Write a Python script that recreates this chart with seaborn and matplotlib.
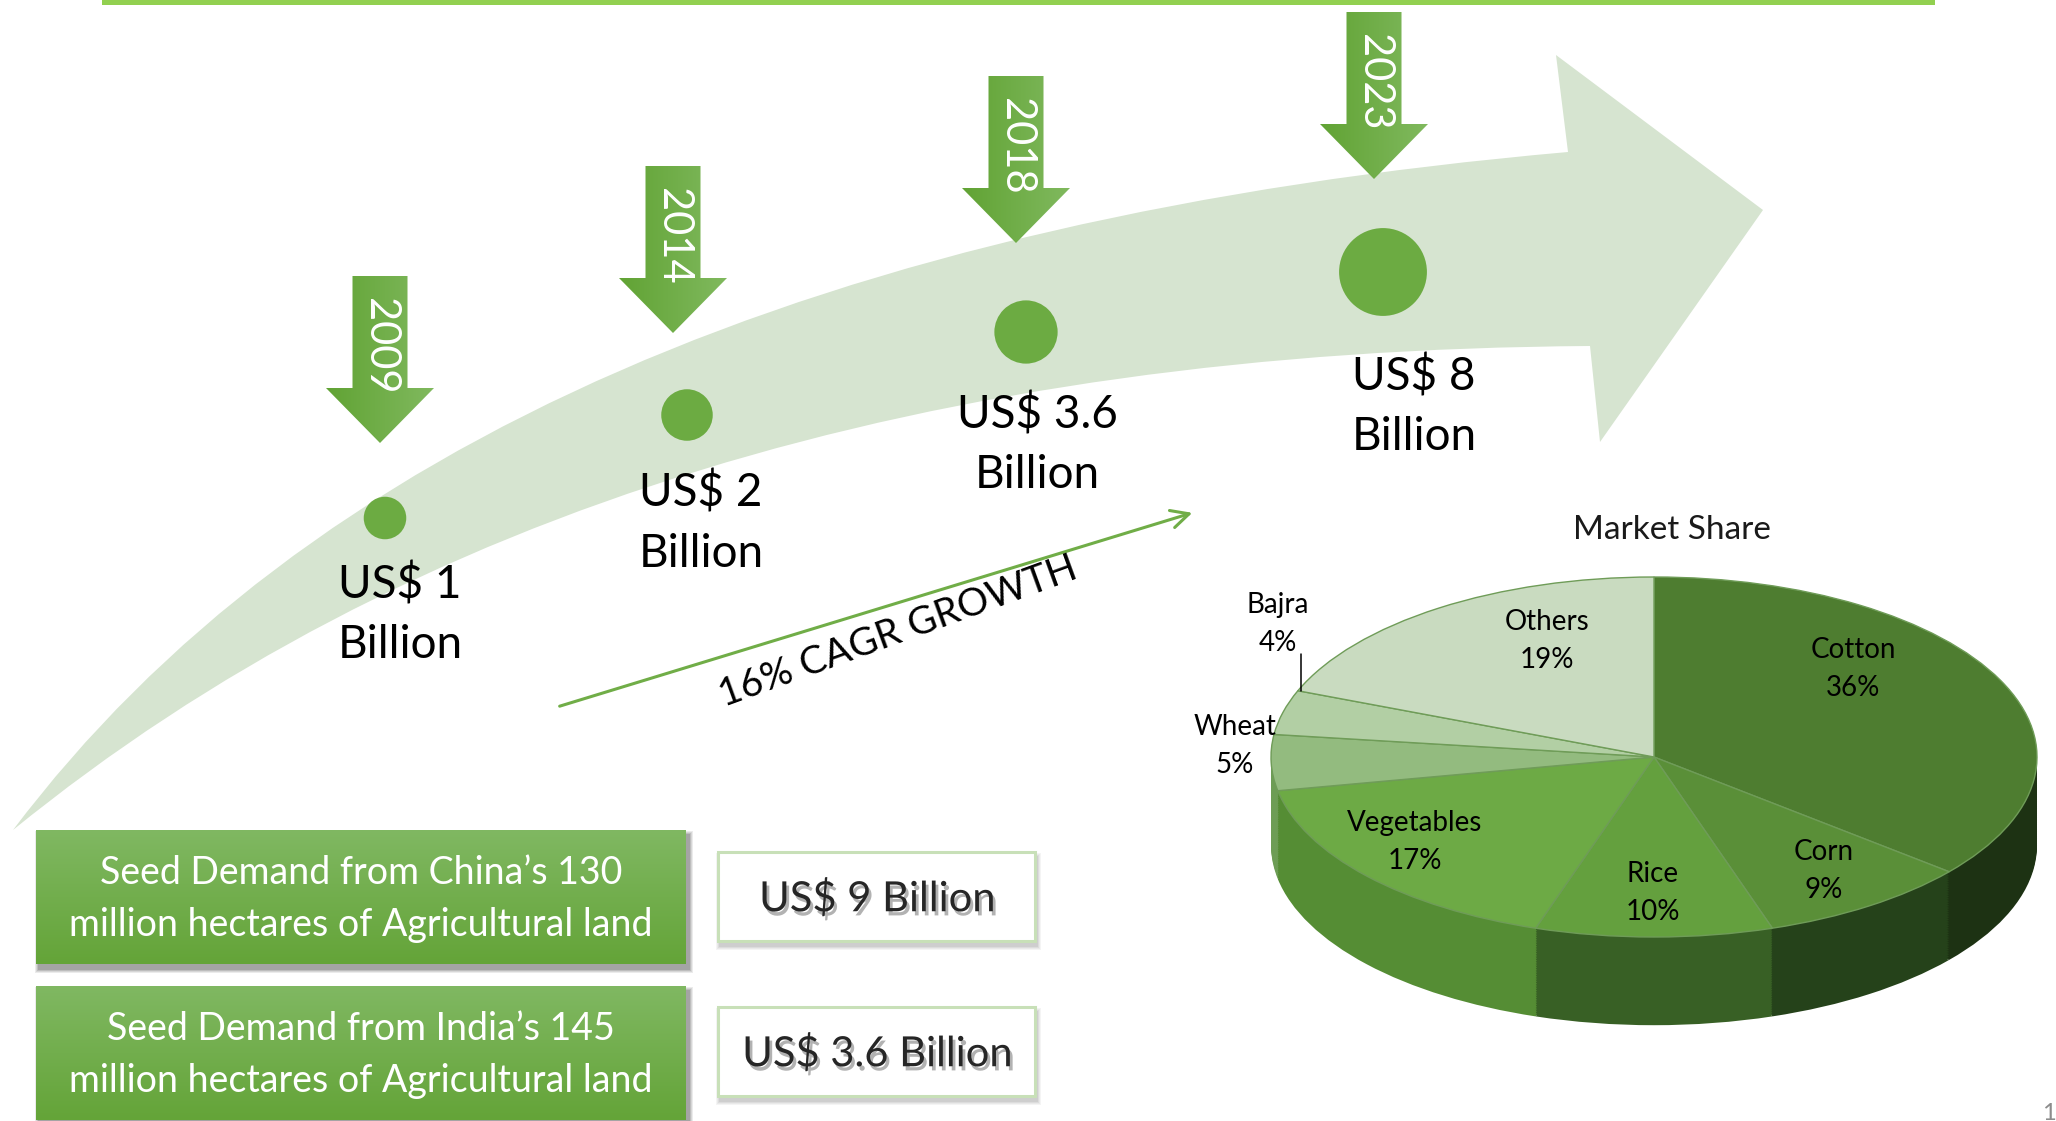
"""Seed market infographic: growth timeline and crop market share."""

import matplotlib.patheffects as pe
import matplotlib.pyplot as plt
import numpy as np
import pandas as pd
import seaborn as sns
from matplotlib.colors import to_rgb
from matplotlib.patches import PathPatch, Polygon, Rectangle
from matplotlib.path import Path

W, H = 2056, 1121

# chart data
YEARS = ["2009", "2014", "2018", "2023"]
MARKET_SIZE = [1, 2, 3.6, 8]
SIZE_LABELS = ["US$ 1", "US$ 2", "US$ 3.6", "US$ 8"]
CAGR_LABEL = "16% CAGR GROWTH"
CROPS = ["Cotton", "Corn", "Rice", "Vegetables", "Wheat", "Bajra", "Others"]
SHARES = [36, 9, 10, 17, 5, 4, 19]
DEMAND_TEXT = [
    "Seed Demand from China\u2019s 130\nmillion hectares of Agricultural land",
    "Seed Demand from India\u2019s 145\nmillion hectares of Agricultural land",
]
DEMAND_VALUE = ["US$ 9 Billion", "US$ 3.6 Billion"]

# layout in pixels
BUBBLE_X = [385, 687, 1026, 1383]
BUBBLE_Y = [518, 415, 332, 272]
DOWN_X = [380, 673, 1016, 1374]
DOWN_TOP = [276, 166, 76, 12]
LABEL_X = [400, 701, 1037, 1414]
LABEL_BASE = [598, 507, 428, 390]
PIE_LABEL_XY = [(1853, 669), (1824, 871), (1653, 893), (1415, 842),
                (1235, 746), (1278, 624), (1547, 641)]
TOP_COLORS = ["#4e7d30", "#5a8f38", "#64a03e", "#6daa45", "#93bb7f", "#b2cfa4", "#c9dbc0"]
SIDE_COLORS = ["#1d3213", "#25421a", "#386025", "#558d34", "#6d9d55", "#86ad72", "#9fbd91"]

GREEN = "#70ad47"


def gradient_fill(ax, verts, c0, c1, horizontal=True, zorder=2):
    verts = np.asarray(verts, float)
    x0, y0 = verts.min(axis=0)
    x1, y1 = verts.max(axis=0)
    t = np.linspace(0, 1, 256)
    cols = np.outer(1 - t, to_rgb(c0)) + np.outer(t, to_rgb(c1))
    img = cols[None, :, :] if horizontal else cols[:, None, :]
    poly = Polygon(verts, closed=True, facecolor="none", edgecolor="none", zorder=zorder)
    ax.add_patch(poly)
    im = ax.imshow(img, extent=(x0, x1, y1, y0), origin="upper", aspect="auto",
                   interpolation="bilinear", zorder=zorder)
    im.set_clip_path(poly)


def soft_shadow(ax, x, y, w, h, dx, dy, color, zorder):
    for i, a in enumerate([0.10, 0.12, 0.16, 0.2]):
        grow = 4 - i
        ax.add_patch(Rectangle((x + dx - grow, y + dy - grow), w + 2 * grow, h + 2 * grow,
                               facecolor=color, edgecolor="none", alpha=a, zorder=zorder))


def draw_pie(fig):
    a, b = 383, 180
    cx, cy = 1654, 757
    depth = 0.49
    m = 1.03
    left = cx - m * a
    top = cy - m * b
    width = 2 * m * a
    height = (2 * m + depth) * b
    ax = fig.add_axes([left / W, 1 - (top + height) / H, width / W, height / H])
    for k in np.linspace(-depth, 0, 50, endpoint=False):
        ax.pie(SHARES, colors=SIDE_COLORS, startangle=90, counterclock=False,
               center=(0, k), wedgeprops=dict(linewidth=0))
    ax.pie(SHARES, colors=TOP_COLORS, startangle=90, counterclock=False,
           wedgeprops=dict(linewidth=1.0, edgecolor="#6f9c58"))
    ax.set_aspect("auto")
    ax.set_xlim(-m, m)
    ax.set_ylim(-m - depth, m)
    ax.axis("off")


def main():
    sns.set_theme(style="white")
    plt.rcParams["font.family"] = ["Lato", "DejaVu Sans"]

    fig = plt.figure(figsize=(W / 100, H / 100), dpi=100)
    fig.patch.set_facecolor("white")
    draw_pie(fig)

    ax = fig.add_axes([0, 0, 1, 1])
    ax.patch.set_visible(False)

    # top rule
    ax.add_patch(Rectangle((102, 0), 1833, 5, facecolor="#92d050", edgecolor="none"))

    # big curved arrow
    verts = [(13, 830), (450, 250), (1568, 152), (1556, 55), (1763, 210),
             (1600, 442), (1590, 346), (600, 352), (13, 830), (13, 830)]
    codes = [Path.MOVETO, Path.CURVE3, Path.CURVE3, Path.LINETO, Path.LINETO,
             Path.LINETO, Path.LINETO, Path.CURVE3, Path.CURVE3, Path.CLOSEPOLY]
    ax.add_patch(PathPatch(Path(verts, codes), facecolor="#d6e4d0", edgecolor="none", zorder=1))

    # year arrows
    for year, cx, top in zip(YEARS, DOWN_X, DOWN_TOP):
        sw, hw = 27.5, 54
        shape = [(cx - sw, top), (cx + sw, top), (cx + sw, top + 112), (cx + hw, top + 112),
                 (cx, top + 167), (cx - hw, top + 112), (cx - sw, top + 112)]
        gradient_fill(ax, shape, "#61a334", "#80b95e", horizontal=True, zorder=3)
        ax.text(cx, top + 70, year, rotation=270, color="white", fontsize=30,
                ha="center", va="center", zorder=4)

    # market size bubbles
    df = pd.DataFrame({"x": BUBBLE_X, "y": BUBBLE_Y, "value": MARKET_SIZE})
    sns.scatterplot(data=df, x="x", y="y", size="value", sizes=(500, 4000),
                    size_norm=(0, 8), color="#6cab42", linewidth=0, legend=False,
                    ax=ax, zorder=5)
    for lab, x, base in zip(SIZE_LABELS, LABEL_X, LABEL_BASE):
        ax.text(x, base, lab, fontsize=33, ha="center", va="baseline", color="black", zorder=6)
        ax.text(x, base + 60, "Billion", fontsize=33, ha="center", va="baseline",
                color="black", zorder=6)

    # CAGR arrow
    ax.annotate("", xy=(1195, 512), xytext=(557, 707),
                arrowprops=dict(arrowstyle="->", color=GREEN, lw=2.2, mutation_scale=32),
                zorder=4)
    ax.text(898, 632, CAGR_LABEL, rotation=20, fontsize=28, ha="center", va="center",
            rotation_mode="anchor", color="black", zorder=6)

    # pie title and labels
    ax.text(1672, 530, "Market Share", fontsize=24, ha="center", va="center", color="#1a1a1a")
    for crop, share, (x, y) in zip(CROPS, SHARES, PIE_LABEL_XY):
        ax.text(x, y, f"{crop}\n{share}%", fontsize=20, ha="center", va="center",
                linespacing=1.55, color="black", zorder=6)
    ax.plot([1301, 1301], [654, 691], color="black", lw=1.1, zorder=6)

    # demand boxes
    box_tops = [830, 986]
    value_tops = [852, 1007]
    for text, value, top, vtop in zip(DEMAND_TEXT, DEMAND_VALUE, box_tops, value_tops):
        soft_shadow(ax, 36, top, 650, 134, 3, 5, "#404040", zorder=2)
        shape = [(36, top), (686, top), (686, top + 134), (36, top + 134)]
        gradient_fill(ax, shape, "#80b862", "#64a438", horizontal=False, zorder=3)
        ax.text(361, top + 69, text, color="white", fontsize=27, ha="center", va="center",
                linespacing=1.53, zorder=4)

        soft_shadow(ax, 718, vtop, 317, 89, 2, 5, "#9a9a9a", zorder=2)
        ax.add_patch(Rectangle((718, vtop), 317, 89, facecolor="white",
                               edgecolor="#c8e0b8", lw=2.2, zorder=3))
        t = ax.text(877, vtop + 46, value, fontsize=30, ha="center", va="center",
                    color="#262626", zorder=4)
        t.set_path_effects([pe.withSimplePatchShadow(offset=(2, -3), shadow_rgbFace="#555555",
                                                     alpha=0.45)])

    ax.text(2049, 1113, "1", fontsize=17, color="#8c8c8c", ha="center", va="center")

    ax.set_xlim(0, W)
    ax.set_ylim(H, 0)
    ax.axis("off")
    fig.savefig("out.png", dpi=100)
    plt.close(fig)


if __name__ == "__main__":
    main()
